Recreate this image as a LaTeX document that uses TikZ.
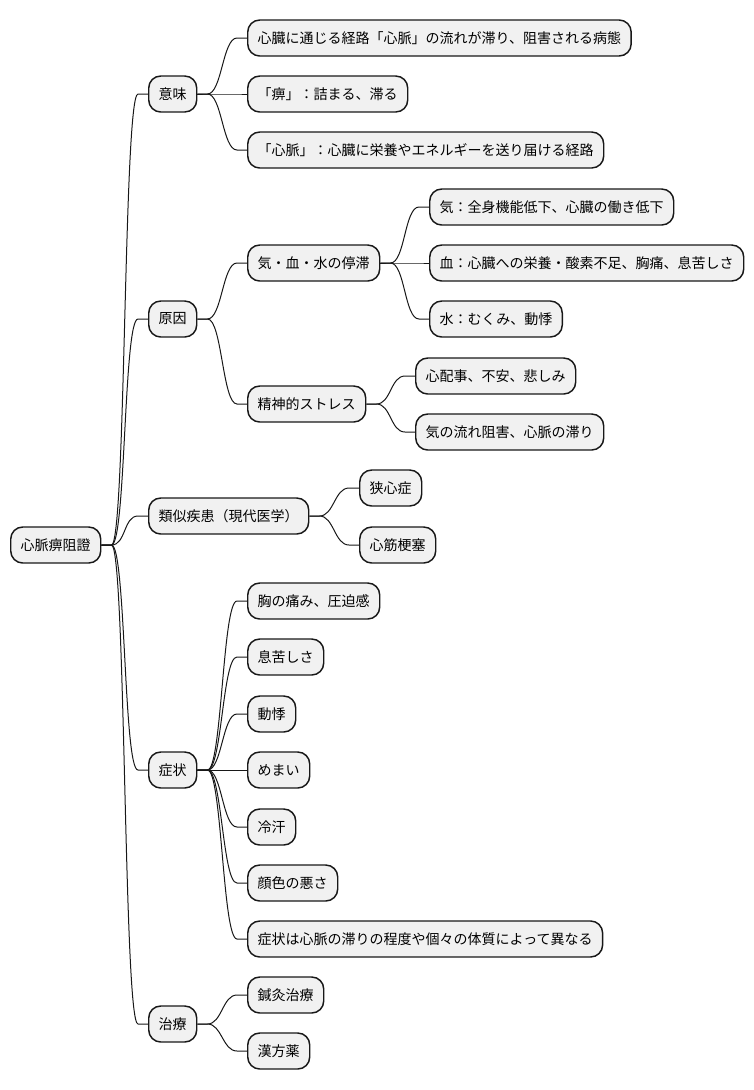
\documentclass[tikz,border=0pt]{standalone}
\usepackage{fontspec}
\newfontfamily\jp{Noto Sans CJK JP}
\usetikzlibrary{calc}
\definecolor{boxfill}{HTML}{F1F1F1}
\definecolor{boxline}{HTML}{181818}
\tikzset{
  mmbox/.style={draw=boxline, fill=boxfill, line width=1.1pt, rounded corners=9pt,
    minimum height=27pt, inner xsep=7.5pt, inner ysep=0pt, anchor=west,
    font=\jp\fontsize{10.5pt}{12pt}\selectfont, text=black},
  mmline/.style={draw=boxline, line width=0.75pt}
}
\newcommand{\mmlink}[2]{\draw[mmline] (#1.east) -- ++(10,0) .. controls +(14.5,0) and +(-14.5,0) .. ($(#2.west)+(-10,0)$) -- (#2.west);}
\begin{document}
\begin{tikzpicture}[x=0.75pt,y=-0.75pt]
\useasboundingbox (0,0) rectangle (754,1090);
% root
\node[mmbox] (r) at (10,545) {心脈痹阻證};
% level 1
\node[mmbox] (m1) at (148,94) {意味};
\node[mmbox] (m2) at (148,319) {原因};
\node[mmbox] (m3) at (148,516) {類似疾患（現代医学）};
\node[mmbox] (m4) at (148,770) {症状};
\node[mmbox] (m5) at (148,1024) {治療};
% 意味
\node[mmbox] (a1) at (247,38) {心臓に通じる経路「心脈」の流れが滞り、阻害される病態};
\node[mmbox] (a2) at (247,94) {「痹」：詰まる、滞る};
\node[mmbox] (a3) at (247,150) {「心脈」：心臓に栄養やエネルギーを送り届ける経路};
% 原因
\node[mmbox] (b1) at (247,263) {気・血・水の停滞};
\node[mmbox] (b2) at (247,404) {精神的ストレス};
\node[mmbox] (b11) at (429,207) {気：全身機能低下、心臓の働き低下};
\node[mmbox] (b12) at (429,263) {血：心臓への栄養・酸素不足、胸痛、息苦しさ};
\node[mmbox] (b13) at (429,319) {水：むくみ、動悸};
\node[mmbox] (b21) at (415,376) {心配事、不安、悲しみ};
\node[mmbox] (b22) at (415,432) {気の流れ阻害、心脈の滞り};
% 類似疾患
\node[mmbox] (c1) at (359,488) {狭心症};
\node[mmbox] (c2) at (359,545) {心筋梗塞};
% 症状
\node[mmbox] (d1) at (247,601) {胸の痛み、圧迫感};
\node[mmbox] (d2) at (247,657) {息苦しさ};
\node[mmbox] (d3) at (247,714) {動悸};
\node[mmbox] (d4) at (247,770) {めまい};
\node[mmbox] (d5) at (247,827) {冷汗};
\node[mmbox] (d6) at (247,883) {顔色の悪さ};
\node[mmbox] (d7) at (247,939) {症状は心脈の滞りの程度や個々の体質によって異なる};
% 治療
\node[mmbox] (e1) at (247,995) {鍼灸治療};
\node[mmbox] (e2) at (247,1051) {漢方薬};
% connectors
\mmlink{r}{m1}\mmlink{r}{m2}\mmlink{r}{m3}\mmlink{r}{m4}\mmlink{r}{m5}
\mmlink{m1}{a1}\mmlink{m1}{a2}\mmlink{m1}{a3}
\mmlink{m2}{b1}\mmlink{m2}{b2}
\mmlink{b1}{b11}\mmlink{b1}{b12}\mmlink{b1}{b13}
\mmlink{b2}{b21}\mmlink{b2}{b22}
\mmlink{m3}{c1}\mmlink{m3}{c2}
\mmlink{m4}{d1}\mmlink{m4}{d2}\mmlink{m4}{d3}\mmlink{m4}{d4}\mmlink{m4}{d5}\mmlink{m4}{d6}\mmlink{m4}{d7}
\mmlink{m5}{e1}\mmlink{m5}{e2}
\end{tikzpicture}
\end{document}
